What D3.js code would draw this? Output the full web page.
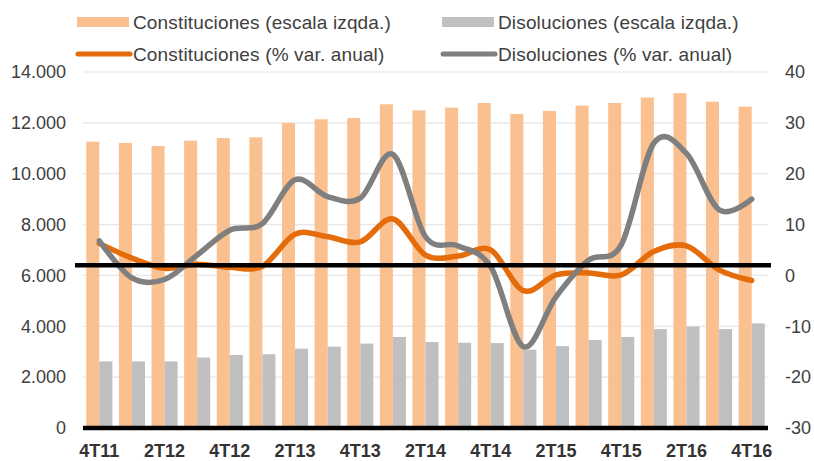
<!DOCTYPE html>
<html>
<head>
<meta charset="utf-8">
<script src="https://cdn.jsdelivr.net/npm/d3@7"></script>
<style>
  body { margin: 0; background: #fff; }
  svg { display: block; font-family: "Liberation Sans", Arial, Helvetica, sans-serif; }
</style>
</head>
<body>
<div id="chart"></div>
<script>
// data
var quarters = ["4T11","1T12","2T12","3T12","4T12","1T13","2T13","3T13","4T13","1T14","2T14",
                "3T14","4T14","1T15","2T15","3T15","4T15","1T16","2T16","3T16","4T16"];
var constituciones = [11260, 11210, 11090, 11300, 11400, 11430, 11990, 12140, 12190, 12730, 12490,
                      12600, 12780, 12350, 12470, 12680, 12780, 13000, 13170, 12830, 12640];
var disoluciones = [2620, 2620, 2620, 2770, 2870, 2900, 3120, 3200, 3320, 3580, 3380,
                    3355, 3340, 3080, 3220, 3460, 3580, 3890, 3985, 3890, 4115];
var constVar = [6.3, 3.4, 1.4, 2.2, 1.6, 1.8, 8.1, 7.6, 6.6, 11.1, 4.0,
                3.8, 5.0, -3.0, 0.1, 0.5, 0.1, 4.7, 5.8, 1.1, -1.0];
var disolVar = [6.8, -0.5, -0.8, 4.0, 8.9, 10.2, 18.8, 15.5, 15.2, 23.8, 7.6,
                5.8, 1.7, -14.0, -4.2, 3.0, 6.0, 26.0, 24.0, 12.9, 15.0];
var leftTicks = [0, 2000, 4000, 6000, 8000, 10000, 12000, 14000];
var rightTicks = [-30, -20, -10, 0, 10, 20, 30, 40];
var xLabels = ["4T11","2T12","4T12","2T13","4T13","2T14","4T14","2T15","4T15","2T16","4T16"];
var refLine = 2; // black horizontal line (right scale)

var legendItems = [
  {label: "Constituciones (escala izqda.)", type: "bar", color: "#FAC090", x: 77, y: 22},
  {label: "Disoluciones (escala izqda.)", type: "bar", color: "#BFBFBF", x: 442, y: 22},
  {label: "Constituciones (% var. anual)", type: "line", color: "#E46C0A", x: 77, y: 54},
  {label: "Disoluciones (% var. anual)", type: "line", color: "#7F7F7F", x: 442, y: 54}
];

var W = 814, H = 461;
var margin = {top: 72, right: 46, bottom: 33, left: 83};
var width = W - margin.left - margin.right;
var height = H - margin.top - margin.bottom;

var svg = d3.select("#chart").append("svg")
  .attr("width", W)
  .attr("height", H);

var g = svg.append("g")
  .attr("transform", "translate(" + margin.left + "," + margin.top + ")");

var x = d3.scaleBand().domain(quarters).range([0, width]).padding(0);
var yL = d3.scaleLinear().domain([0, 14000]).range([height, 0]);
var yR = d3.scaleLinear().domain([-30, 40]).range([height, 0]);
var fmt = function(d) { return d3.format(",")(d).replace(/,/g, "."); };

var bw = x.step() * 0.4;
var off = (x.step() - 2 * bw) / 2;

// gridlines
g.selectAll(".grid")
  .data(leftTicks.slice(1))
  .enter().append("line")
  .attr("x1", 0).attr("x2", width)
  .attr("y1", d => yL(d)).attr("y2", d => yL(d))
  .style("stroke", "#E6E6E6")
  .style("stroke-width", 1.2);

// bars
g.selectAll(".bar-c")
  .data(constituciones)
  .enter().append("rect")
  .attr("x", (d, i) => x(quarters[i]) + off)
  .attr("y", d => yL(d))
  .attr("width", bw)
  .attr("height", d => height - yL(d))
  .style("fill", "#FAC090");

g.selectAll(".bar-d")
  .data(disoluciones)
  .enter().append("rect")
  .attr("x", (d, i) => x(quarters[i]) + off + bw)
  .attr("y", d => yL(d))
  .attr("width", bw)
  .attr("height", d => height - yL(d))
  .style("fill", "#BFBFBF");

// lines
var line = d3.line()
  .x((d, i) => x(quarters[i]) + x.step() / 2)
  .y(d => yR(d))
  .curve(d3.curveCardinal.tension(0));

g.append("path")
  .datum(constVar)
  .attr("d", line)
  .style("fill", "none")
  .style("stroke", "#E46C0A")
  .style("stroke-width", 5.5)
  .style("stroke-linecap", "round");

g.append("path")
  .datum(disolVar)
  .attr("d", line)
  .style("fill", "none")
  .style("stroke", "#7F7F7F")
  .style("stroke-width", 5.5)
  .style("stroke-linecap", "round");

// black lines
g.append("line")
  .attr("x1", 0).attr("x2", width)
  .attr("y1", height).attr("y2", height)
  .style("stroke", "#000").style("stroke-width", 4.5);

g.append("line")
  .attr("x1", -8).attr("x2", width + 3)
  .attr("y1", yR(refLine)).attr("y2", yR(refLine))
  .style("stroke", "#000").style("stroke-width", 4.5);

// left axis labels
g.selectAll(".lt")
  .data(leftTicks)
  .enter().append("text")
  .attr("x", -17)
  .attr("y", d => yL(d))
  .attr("dy", "0.35em")
  .style("text-anchor", "end")
  .style("font-size", "18px")
  .style("fill", "#404040")
  .text(fmt);

// right axis labels
g.selectAll(".rt")
  .data(rightTicks)
  .enter().append("text")
  .attr("x", width + 17)
  .attr("y", d => yR(d))
  .attr("dy", "0.35em")
  .style("text-anchor", "start")
  .style("font-size", "18px")
  .style("fill", "#404040")
  .text(d => d);

// x labels
g.selectAll(".xt")
  .data(xLabels)
  .enter().append("text")
  .attr("x", d => x(d) + x.step() / 2)
  .attr("y", height + 29)
  .style("text-anchor", "middle")
  .style("font-size", "18px")
  .style("font-weight", "bold")
  .style("fill", "#333")
  .text(d => d);

// legend
var legend = svg.selectAll(".legend")
  .data(legendItems)
  .enter().append("g")
  .attr("transform", d => "translate(" + d.x + "," + d.y + ")");

legend.filter(d => d.type == "bar").append("rect")
  .attr("x", 0).attr("y", -5)
  .attr("width", 52).attr("height", 10)
  .style("fill", d => d.color);

legend.filter(d => d.type == "line").append("line")
  .attr("x1", 1).attr("x2", 53)
  .attr("y1", 0).attr("y2", 0)
  .style("stroke", d => d.color)
  .style("stroke-width", 5)
  .style("stroke-linecap", "round");

legend.append("text")
  .attr("x", 56)
  .attr("y", 0)
  .attr("dy", "0.35em")
  .style("font-size", "19px")
  .style("letter-spacing", "0.15px")
  .style("fill", "#404040")
  .text(d => d.label);
</script>
</body>
</html>
